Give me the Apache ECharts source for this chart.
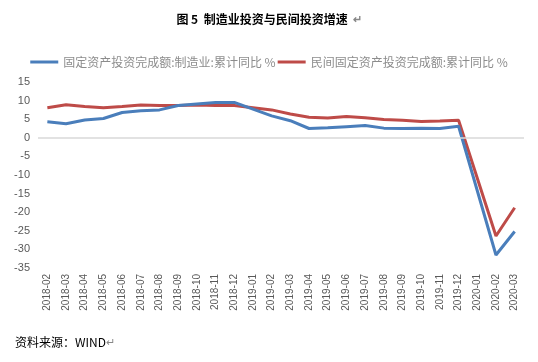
<!DOCTYPE html>
<html><head><meta charset="utf-8">
<script src="https://cdn.jsdelivr.net/npm/echarts@6/dist/echarts.min.js"></script>
<style>html,body{margin:0;padding:0;background:#fff}#c{width:538px;height:362px}</style>
</head><body><div id="c"></div>
<script>
const categories = ['2018-02','2018-03','2018-04','2018-05','2018-06','2018-07','2018-08','2018-09','2018-10','2018-11','2018-12','2019-01','2019-02','2019-03','2019-04','2019-05','2019-06','2019-07','2019-08','2019-09','2019-10','2019-11','2019-12','2020-01','2020-02','2020-03'];
const manufacturing = [4.3,3.8,4.8,5.2,6.8,7.3,7.5,8.7,9.1,9.5,9.5,null,5.9,4.6,2.5,2.7,3.0,3.3,2.6,2.5,2.6,2.5,3.1,null,-31.5,-25.2];
const privateInv = [8.1,8.9,8.4,8.1,8.4,8.8,8.7,8.7,8.8,8.7,8.7,null,7.5,6.4,5.5,5.3,5.7,5.4,4.9,4.7,4.4,4.5,4.7,null,-26.4,-18.8];
const seriesNames = ['固定资产投资完成额:制造业:累计同比 %','民间固定资产投资完成额:累计同比 %'];
const yTicks = {min:-35, max:15, interval:5};

const chart = echarts.init(document.getElementById('c'));
chart.setOption({
  animation:false,
  backgroundColor:'#fff',
  textStyle:{fontFamily:'"Noto Sans CJK SC", sans-serif'},
  title:[{
    text:'{b|图 5  制造业投资与民间投资增速}{r|  ↵}',
    left:'center', top:8,
    textStyle:{rich:{
      b:{fontSize:12,fontWeight:'bold',color:'#000',fontFamily:'"Noto Sans CJK SC", sans-serif'},
      r:{fontSize:11,color:'#888'}
    }}
  },{
    text:'资料来源：WIND{r|↵}',
    left:10, top:331,
    textStyle:{fontSize:12,fontWeight:'normal',color:'#000',fontFamily:'"Noto Sans CJK SC", sans-serif',rich:{r:{fontSize:11,color:'#888'}}}
  }],
  legend:{
    top:51, left:'center',
    itemWidth:28, itemHeight:3, itemGap:2,
    icon:'rect',
    textStyle:{fontSize:12,color:'#8c8c8c',fontFamily:'"Noto Sans CJK SC", sans-serif'},
    data:seriesNames
  },
  grid:{left:38,right:14,top:82,bottom:94},
  xAxis:{
    type:'category', data:categories, boundaryGap:true,
    axisLine:{show:false}, axisTick:{show:false},
    axisLabel:{rotate:90,fontSize:10,color:'#595959',margin:6,interval:0,fontFamily:'"Liberation Sans", Arial, sans-serif'}
  },
  yAxis:{
    type:'value', min:yTicks.min, max:yTicks.max, interval:yTicks.interval,
    axisLine:{show:false}, axisTick:{show:false}, splitLine:{show:false},
    axisLabel:{fontSize:11,color:'#595959',margin:8,fontFamily:'"Liberation Sans", Arial, sans-serif'}
  },
  series:[{
    name:seriesNames[0], type:'line', data:manufacturing, connectNulls:true,
    symbol:'none', lineStyle:{width:3,color:'#4A7EBB'}, itemStyle:{color:'#4A7EBB'},
    markLine:{silent:true,symbol:'none',label:{show:false},lineStyle:{color:'#D9D9D9',width:1.5,type:'solid'},data:[{yAxis:0}]},
    z:3
  },{
    name:seriesNames[1], type:'line', data:privateInv, connectNulls:true,
    symbol:'none', lineStyle:{width:3,color:'#BE4B48'}, itemStyle:{color:'#BE4B48'},
    z:2
  }]
});
</script></body></html>
